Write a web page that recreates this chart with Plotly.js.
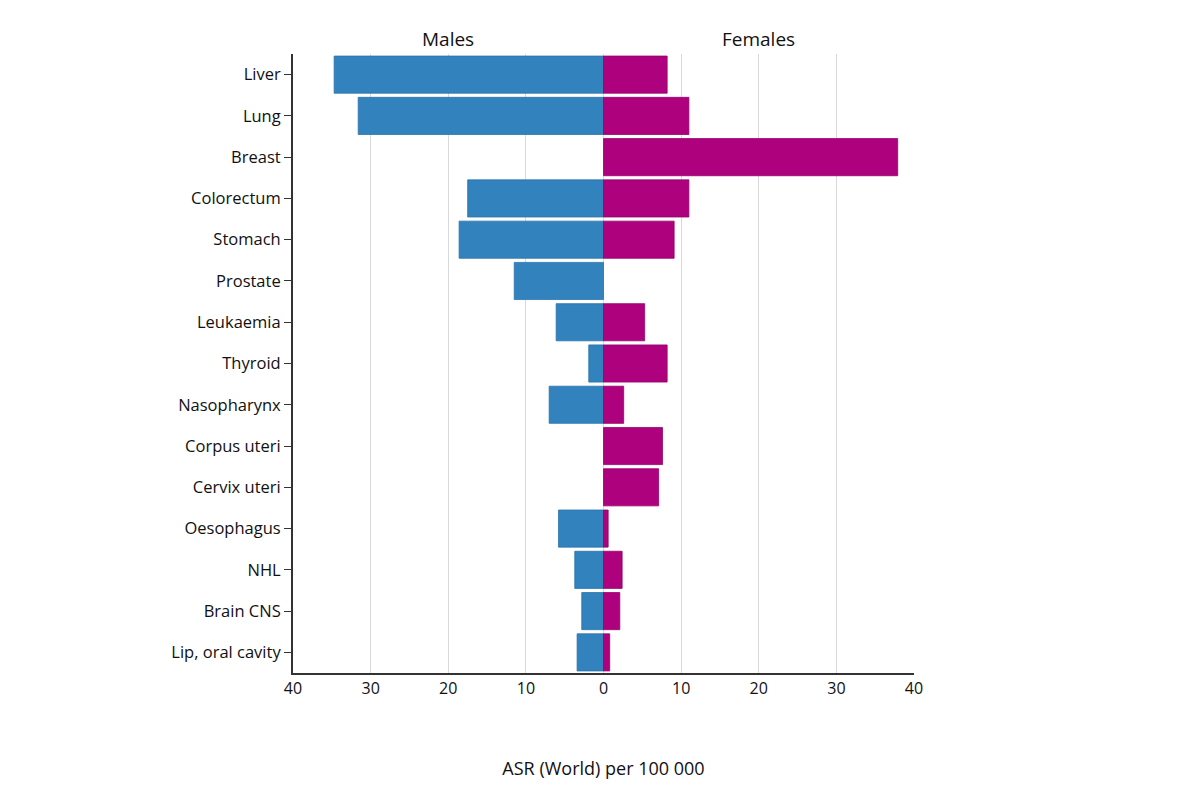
<!DOCTYPE html>
<html>
<head>
<meta charset="utf-8">
<script src="https://cdn.plot.ly/plotly-3.0.1.min.js"></script>
<style>body{margin:0;background:#fff;}#chart{width:1200px;height:800px;}</style>
</head>
<body>
<div id="chart"></div>
<script>
var categories = ["Liver","Lung","Breast","Colorectum","Stomach","Prostate","Leukaemia","Thyroid","Nasopharynx","Corpus uteri","Cervix uteri","Oesophagus","NHL","Brain CNS","Lip, oral cavity"];
var males = [34.7, 31.6, 0, 17.5, 18.6, 11.5, 6.1, 1.9, 7.0, 0, 0, 5.8, 3.7, 2.8, 3.4];
var females = [8.2, 11.0, 37.9, 11.0, 9.1, 0, 5.3, 8.2, 2.6, 7.6, 7.1, 0.6, 2.4, 2.1, 0.8];
var tickVals = [-40,-30,-20,-10,0,10,20,30,40];
var tickText = ["40","30","20","10","0","10","20","30","40"];
var groupLabels = ["Males","Females"];

var font = "'Open Sans', 'Noto Sans', sans-serif";

var traces = [
  {type:'bar', orientation:'h', y:categories, x:males.map(function(v){return v === 0 ? null : -v;}),
   name:groupLabels[0], marker:{color:'#3182bd', line:{color:'#2b74ab', width:0.8}}, hoverinfo:'y+text', text:males.map(String), textposition:'none'},
  {type:'bar', orientation:'h', y:categories, x:females.map(function(v){return v === 0 ? null : v;}),
   name:groupLabels[1], marker:{color:'#ae017e', line:{color:'#95016b', width:0.8}}, hoverinfo:'y+text', text:females.map(String), textposition:'none'}
];

var layout = {
  width:1200, height:800,
  paper_bgcolor:'#fff', plot_bgcolor:'#fff',
  margin:{l:293, r:286, t:54, b:127},
  barmode:'relative', bargap:0.1,
  showlegend:false,
  font:{family:font, color:'#222', size:16},
  xaxis:{range:[-40,40], tickvals:tickVals, ticktext:tickText, showgrid:true, gridcolor:'#d9d9d9', gridwidth:1,
    zeroline:false, showline:true, linecolor:'#333', linewidth:2, ticks:'', tickfont:{size:16, color:'#111'},
    title:{text:'ASR (World) per 100 000', font:{size:18, color:'#111'}, standoff:64}},
  yaxis:{autorange:'reversed', showgrid:false, zeroline:false, showline:true, linecolor:'#333', linewidth:2,
    ticks:'outside', ticklen:7, tickcolor:'#333', tickfont:{size:16.5, color:'#111'}},
  annotations:[
    {xref:'x', yref:'paper', x:-20, y:1, yanchor:'bottom', yshift:0, text:groupLabels[0], showarrow:false, font:{size:19, color:'#111'}},
    {xref:'x', yref:'paper', x:20, y:1, yanchor:'bottom', yshift:0, text:groupLabels[1], showarrow:false, font:{size:19, color:'#111'}}
  ]
};

Plotly.newPlot('chart', traces, layout, {displayModeBar:false, staticPlot:true});
</script>
</body>
</html>
